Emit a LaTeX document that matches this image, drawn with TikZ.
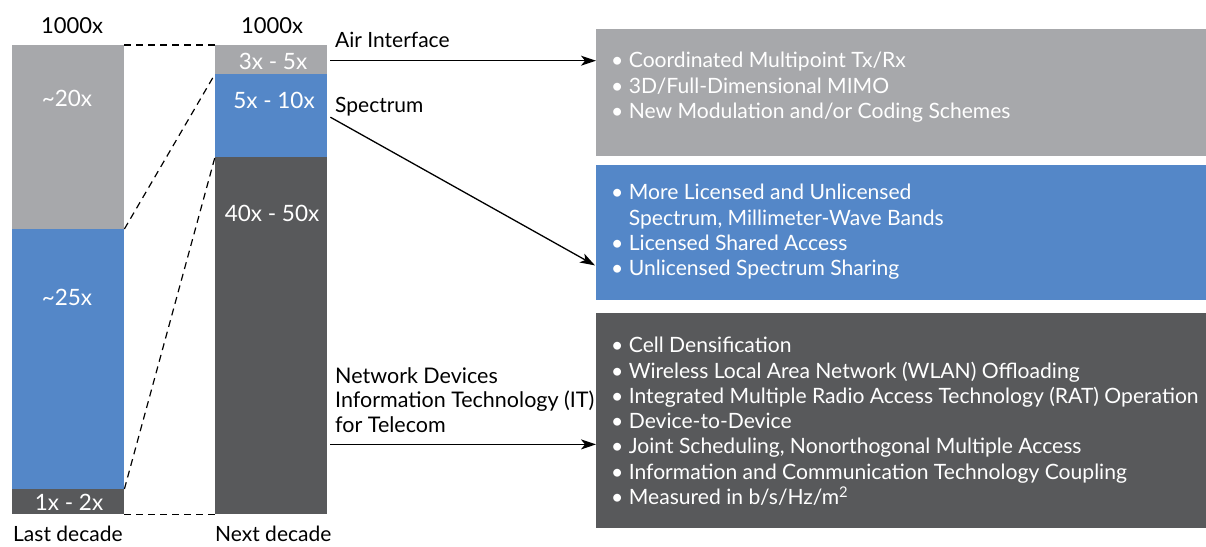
\documentclass[tikz,border=0pt]{standalone}
\usepackage{fontspec}
\setmainfont{Lato}
\usetikzlibrary{arrows.meta,calc}
\definecolor{bargrey}{HTML}{A7A8AB}
\definecolor{barblue}{HTML}{5487C8}
\definecolor{bardark}{HTML}{58595B}
\begin{document}
\begin{tikzpicture}[x=1pt,y=-1pt,
  seg/.style={rectangle, inner sep=0pt, anchor=north west, minimum width=112pt},
  infobox/.style={rectangle, inner sep=0pt, anchor=north west, minimum width=610pt},
  val/.style={text=white, font=\fontsize{22.5}{26}\selectfont, inner sep=0pt},
  caption/.style={text=black, font=\fontsize{21}{25}\selectfont, inner sep=0pt},
  items/.style={text=white, font=\fontsize{21.1}{25.3}\selectfont, align=left, inner sep=0pt, anchor=north west},
  zoomline/.style={dash pattern=on 7pt off 5pt, line width=1.2pt},
  link/.style={line width=1.3pt, -{Stealth[length=15pt,width=10pt,inset=4pt]}}]
\useasboundingbox (0,0) rectangle (1206,546);

% stacked bars
\node[seg, fill=bargrey, minimum height=184pt] (Lair)  at (12,45)  {};
\node[seg, fill=barblue, minimum height=260pt] (Lspec) at (12,229) {};
\node[seg, fill=bardark, minimum height=25pt]  (Lnet)  at (12,489) {};
\node[seg, fill=bargrey, minimum height=29pt]  (Rair)  at (215,45)  {};
\node[seg, fill=barblue, minimum height=83pt]  (Rspec) at (215,74)  {};
\node[seg, fill=bardark, minimum height=357pt] (Rnet)  at (215,157) {};

% zoom lines between the bars
\draw[zoomline] (Lair.north east)  -- (Rair.north west);
\draw[zoomline] (Lspec.north east) -- (Rspec.north west);
\draw[zoomline] (Lnet.north east)  -- (Rnet.north west);
\draw[zoomline] (Lnet.south east)  -- (Rnet.south west);

% bar values
\node[val] (v1) at (67,98)  {\textasciitilde 20x};
\node[val] (v2) at (67,297) {\textasciitilde 25x};
\node[val] (v3) at (69,502) {1x - 2x};
\node[val] (v4) at (273,61)  {3x - 5x};
\node[val] (v5) at (274,100) {5x - 10x};
\node[val] (v6) at (272,213) {40x - 50x};

% totals and decades
\node[caption, font=\fontsize{22}{26}\selectfont] (t1) at (72,26)  {1000x};
\node[caption, font=\fontsize{22}{26}\selectfont] (t2) at (272,26) {1000x};
\node[caption, anchor=base west] (d1) at (13,541)  {Last decade};
\node[caption, anchor=base west] (d2) at (215,541) {Next decade};

% category labels
\node[caption, anchor=base west] (lair)  at (335,47)  {Air Interface};
\node[caption, anchor=base west] (lspec) at (335,112) {Spectrum};
\node[caption, anchor=north west, align=left, font=\fontsize{21.5}{24.5}\selectfont] (lnet) at (335,367)
  {Network Devices\\Information Technology (IT)\\for Telecom};

% technique boxes
\node[infobox, fill=bargrey, minimum height=127pt] (air)  at (596,29)  {};
\node[infobox, fill=barblue, minimum height=135pt] (spec) at (596,165) {};
\node[infobox, fill=bardark, minimum height=215pt] (net)  at (596,313) {};

\node[items] (airlist) at (611,52) {%
  \textbullet\ Coordinated Multipoint Tx/Rx\\
  \textbullet\ 3D/Full-Dimensional MIMO\\
  \textbullet\ New Modulation and/or Coding Schemes};
\node[items] (speclist) at (611,184) {%
  \textbullet\ More Licensed and Unlicensed\\
  \phantom{\textbullet\ }Spectrum, Millimeter-Wave Bands\\
  \textbullet\ Licensed Shared Access\\
  \textbullet\ Unlicensed Spectrum Sharing};
\node[items] (netlist) at (611,337) {%
  \textbullet\ Cell Densification\\
  \textbullet\ Wireless Local Area Network (WLAN) Offloading\\
  \textbullet\ Integrated Multiple Radio Access Technology (RAT) Operation\\
  \textbullet\ Device-to-Device\\
  \textbullet\ Joint Scheduling, Nonorthogonal Multiple Access\\
  \textbullet\ Information and Communication Technology Coupling\\
  \textbullet\ Measured in b/s/Hz/m\textsuperscript{2}};

% arrows
\coordinate (airstart)  at ($(Rair.east)+(3,1)$);
\coordinate (specstart) at ($(Rspec.east)+(3,1.5)$);
\coordinate (specend)   at ($(spec.south west)+(-1,-35)$);
\coordinate (netstart)  at ($(Rnet.south east)+(3,-70)$);
\draw[link] (airstart) -- (airstart -| air.west);
\draw[link] (specstart) -- (specend);
\draw[link] (netstart) -- (netstart -| net.west);
\end{tikzpicture}
\end{document}
